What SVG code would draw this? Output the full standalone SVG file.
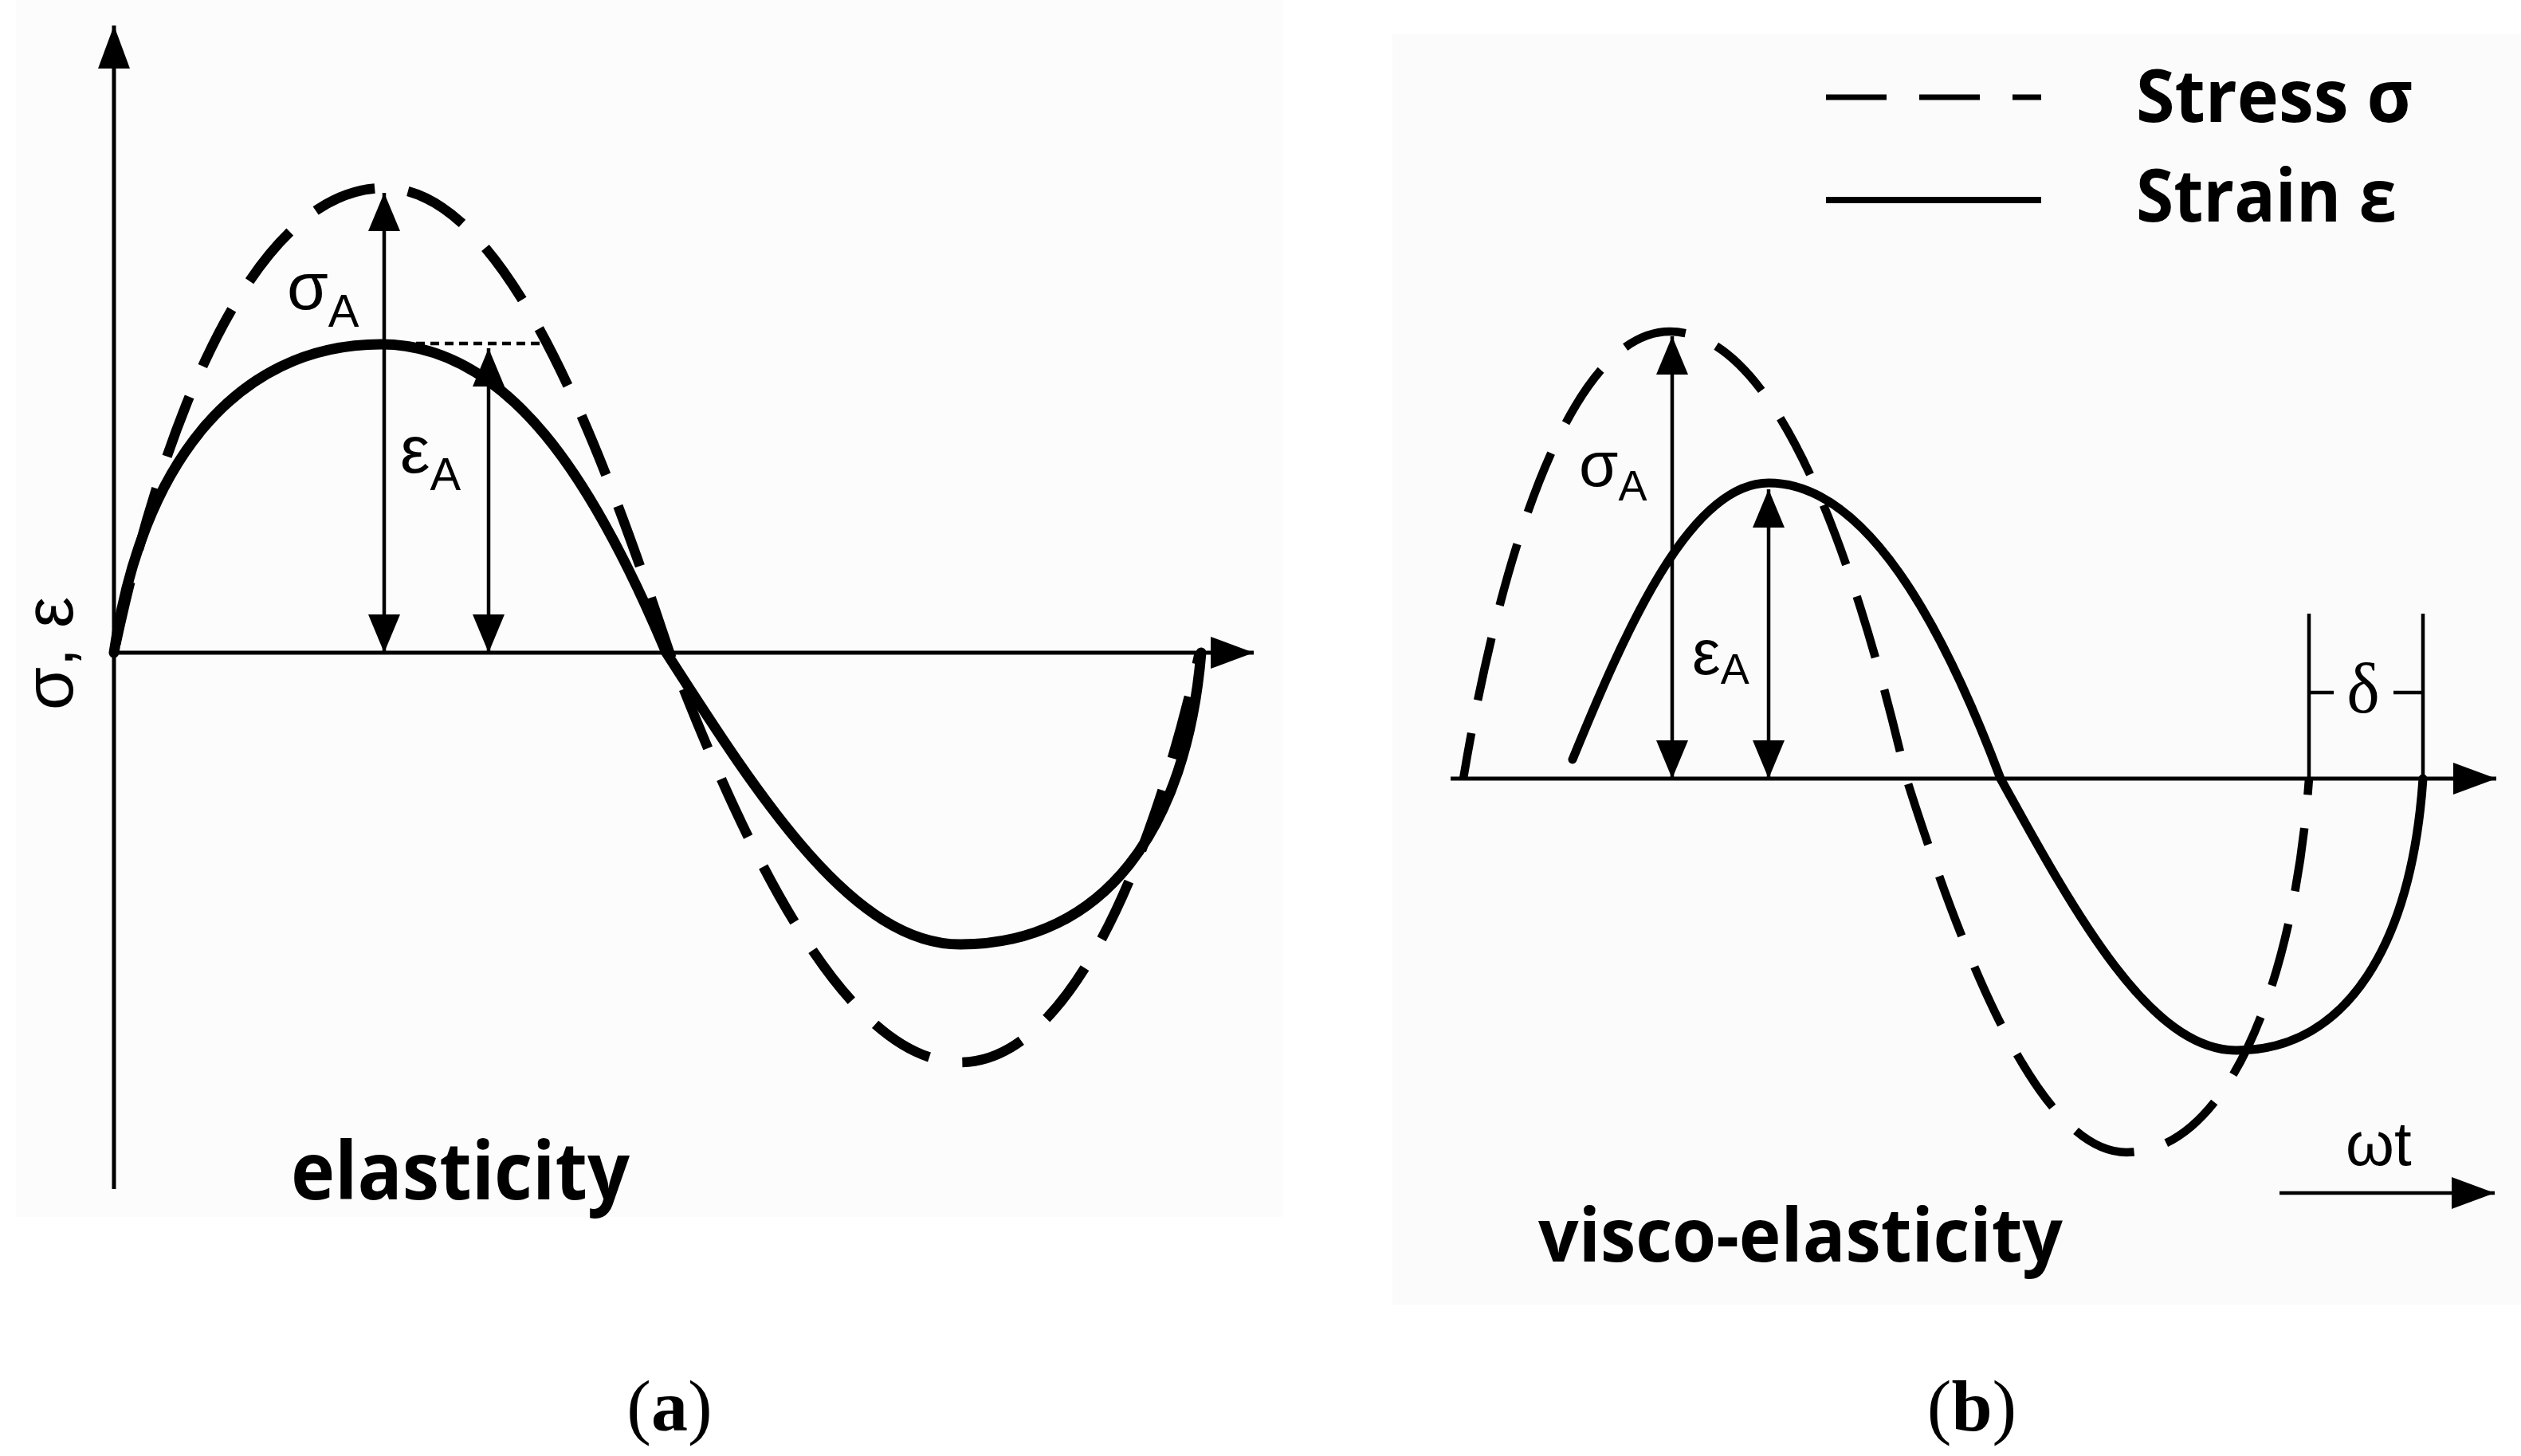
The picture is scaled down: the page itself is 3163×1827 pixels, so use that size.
<svg xmlns="http://www.w3.org/2000/svg" width="3163" height="1827" viewBox="0 0 3163 1827">
<style>
.ax{stroke:#000;stroke-width:5;fill:none}
.thin{stroke:#000;stroke-width:4.5;fill:none}
.sa{stroke:#000;stroke-width:13;fill:none;stroke-linecap:round}
.da{stroke:#000;stroke-width:12.5;fill:none;stroke-dasharray:80 42}
.sb{stroke:#000;stroke-width:11;fill:none;stroke-linecap:round}
.db{stroke:#000;stroke-width:10.5;fill:none;stroke-dasharray:80 42}
.lbl{font-family:"Liberation Sans",Arial,sans-serif;fill:#000}
.bold{font-family:"Open Sans","Liberation Sans",sans-serif;font-weight:bold;fill:#000}
.cap{font-family:"Liberation Serif","Times New Roman",serif;fill:#000}
</style>
<defs>
<marker id="ah" viewBox="0 0 48 40" refX="48" refY="20" markerWidth="48" markerHeight="40" markerUnits="userSpaceOnUse" orient="auto-start-reverse"><path d="M0,0 L48,20 L0,40 Z" fill="#000"/></marker>
<marker id="axh" viewBox="0 0 54 40" refX="54" refY="20" markerWidth="54" markerHeight="40" markerUnits="userSpaceOnUse" orient="auto"><path d="M0,0 L54,20 L0,40 Z" fill="#000"/></marker>
</defs>
<rect width="3163" height="1827" fill="#fff"/>
<rect x="20" y="0" width="1590" height="1527" fill="#fcfcfc"/>
<rect x="1747" y="42" width="1416" height="1595" fill="#fbfbfb"/>

<g id="panel-a-axes">
<line class="ax" x1="143" y1="1492" x2="143" y2="32" marker-end="url(#axh)"/>
<line class="ax" x1="143" y1="819" x2="1573" y2="819" marker-end="url(#axh)"/>
<text class="lbl" font-size="88" text-anchor="middle" transform="translate(91,820) rotate(-90)">σ, ε</text>
</g>

<g id="panel-a-curves">
<path id="stress-a" class="da" stroke-dashoffset="111" d="M143,819 C204,527.5 319.3,236 482,236 C625.2,236 739.8,515.8 840,819 C942.2,1086.3 1066.3,1333 1205,1333 C1340,1333 1445,1086.3 1505,819"/>
<path id="strain-a" class="sa" d="M143,819 C176.5,586.8 293.8,432 478,432 C639.1,432 746.5,606.1 836,819 C956.3,1006.4 1071.4,1185 1205,1185 C1386.2,1185 1488.9,1038.6 1507,819"/>
</g>

<g id="connectors">
<line class="thin" x1="486" y1="431" x2="688" y2="431" stroke-dasharray="11 7"/>
<line class="thin" x1="482" y1="819" x2="482" y2="242" marker-start="url(#ah)" marker-end="url(#ah)"/>
<line class="thin" x1="613" y1="819" x2="613" y2="437" marker-start="url(#ah)" marker-end="url(#ah)"/>
<line class="thin" x1="2098" y1="977" x2="2098" y2="422" marker-start="url(#ah)" marker-end="url(#ah)"/>
<line class="thin" x1="2219" y1="977" x2="2219" y2="614" marker-start="url(#ah)" marker-end="url(#ah)"/>
<line class="thin" x1="2860" y1="1497" x2="3130" y2="1497" stroke-width="6" marker-end="url(#axh)"/>
</g>

<g id="panel-a-labels">
<text class="lbl" x="360" y="388" font-size="84">σ<tspan font-size="58" y="410">A</tspan></text>
<text class="lbl" x="502" y="593" font-size="84">ε<tspan font-size="58" y="615">A</tspan></text>
<text class="bold" x="365" y="1505" font-size="100" textLength="425" lengthAdjust="spacingAndGlyphs">elasticity</text>
<text class="cap" x="840" y="1795" font-size="92" text-anchor="middle">(<tspan font-weight="bold">a</tspan>)</text>
</g>

<g id="panel-b-axes">
<line class="ax" x1="1820" y1="977" x2="3132" y2="977" marker-end="url(#axh)"/>
<line class="thin" x1="2897" y1="770" x2="2897" y2="977"/>
<line class="thin" x1="3040" y1="770" x2="3040" y2="977"/>
<line class="thin" x1="2897" y1="869" x2="2928" y2="869"/>
<line class="thin" x1="3003" y1="869" x2="3040" y2="869"/>
<text class="cap" x="2965" y="894" font-size="88" text-anchor="middle">δ</text>
</g>

<g id="panel-b-curves">
<path id="stress-b" class="db" stroke-dashoffset="22" d="M1836,977 C1882.6,696.5 1970.7,416 2095,416 C2228.6,416 2326.7,696.5 2392,977 C2469.3,1220.9 2563.1,1446 2668,1446 C2793.9,1446 2878.7,1235 2897,977"/>
<path id="strain-b" class="sb" d="M1973,953 C2042,784 2121.7,606 2219,606 C2341.2,606 2437.3,784.1 2510,977 C2606.5,1151.6 2698.8,1318 2806,1318 C2946.4,1318 3026,1181.6 3040,977"/>
</g>

<g id="panel-b-labels">
<text class="lbl" x="1981" y="610" font-size="80">σ<tspan font-size="54" y="628">A</tspan></text>
<text class="lbl" x="2123" y="846" font-size="80">ε<tspan font-size="54" y="858">A</tspan></text>
<text class="lbl" x="2943" y="1462" font-size="78">ωt</text>
<text class="bold" x="1930" y="1583" font-size="93" textLength="658" lengthAdjust="spacingAndGlyphs">visco-elasticity</text>
<text class="cap" x="2474" y="1795" font-size="92" text-anchor="middle">(<tspan font-weight="bold">b</tspan>)</text>
</g>

<g id="legend">
<line x1="2291" y1="122" x2="2561" y2="122" stroke="#000" stroke-width="7" stroke-dasharray="76 41"/>
<line x1="2291" y1="251" x2="2561" y2="251" stroke="#000" stroke-width="8"/>
<text class="bold" x="2680" y="153" font-size="92" textLength="347" lengthAdjust="spacingAndGlyphs">Stress σ</text>
<text class="bold" x="2680" y="278" font-size="92" textLength="327" lengthAdjust="spacingAndGlyphs">Strain ε</text>
</g>
</svg>
